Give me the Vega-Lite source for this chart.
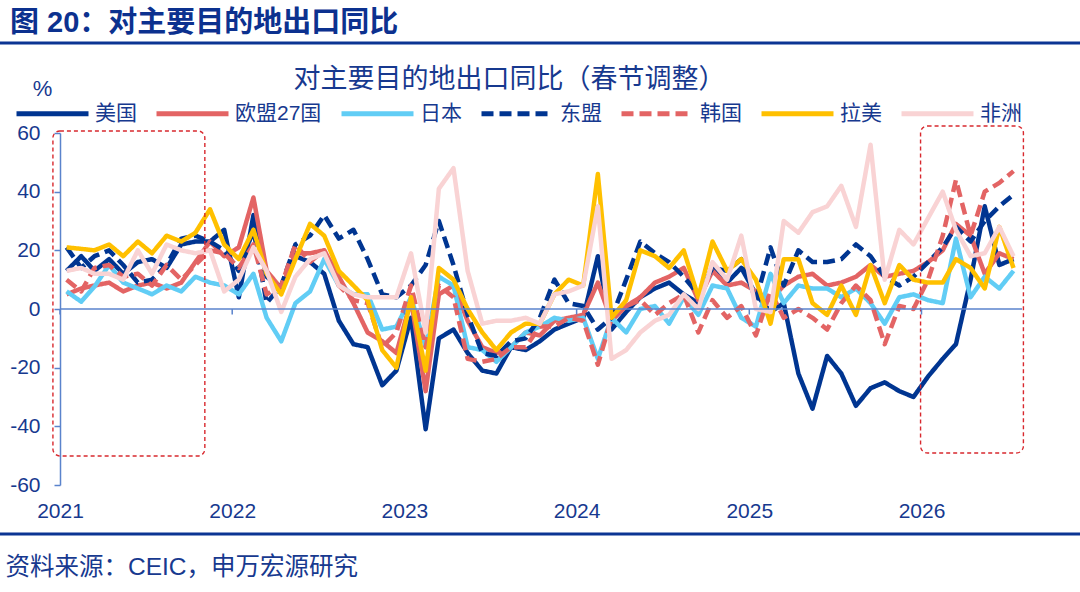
{
  "$schema": "https://vega.github.io/schema/vega-lite/v6.json",
  "width": 962,
  "height": 352,
  "autosize": "none",
  "padding": {"left": 60, "top": 133, "right": 58, "bottom": 107},
  "background": "white",
  "config": {
    "view": {"stroke": null},
    "font": "Liberation Sans, Noto Sans CJK SC"
  },
  "title": {
    "text": "图 20：对主要目的地出口同比",
    "anchor": "start",
    "frame": "group",
    "dx": -50,
    "dy": 17,
    "offset": 20,
    "fontSize": 29,
    "fontWeight": "bold",
    "color": "#0c318f"
  },
  "datasets": {
    "boxes": [
      {"start": "2020-12-17", "end": "2021-11-04", "top": 60.7, "bottom": -50.1},
      {"start": "2025-12-30", "end": "2026-08-05", "top": 62.4, "bottom": -49.1}
    ],
    "years": [
      {"date": "2021-01-01"}, {"date": "2022-01-01"}, {"date": "2023-01-01"},
      {"date": "2024-01-01"}, {"date": "2025-01-01"}, {"date": "2026-01-01"}
    ],
    "exports": [
      {"date":"2021-01-15","series":"美国","value":13},{"date":"2021-02-15","series":"美国","value":18},{"date":"2021-03-15","series":"美国","value":13},{"date":"2021-04-15","series":"美国","value":17},{"date":"2021-05-15","series":"美国","value":12},{"date":"2021-06-15","series":"美国","value":16},{"date":"2021-07-15","series":"美国","value":17},{"date":"2021-08-15","series":"美国","value":14},{"date":"2021-09-15","series":"美国","value":22},{"date":"2021-10-15","series":"美国","value":23},{"date":"2021-11-15","series":"美国","value":23},{"date":"2021-12-15","series":"美国","value":27},
      {"date":"2022-01-15","series":"美国","value":4},{"date":"2022-02-15","series":"美国","value":32},{"date":"2022-03-15","series":"美国","value":11},{"date":"2022-04-15","series":"美国","value":7},{"date":"2022-05-15","series":"美国","value":18},{"date":"2022-06-15","series":"美国","value":16},{"date":"2022-07-15","series":"美国","value":12},{"date":"2022-08-15","series":"美国","value":-4},{"date":"2022-09-15","series":"美国","value":-12},{"date":"2022-10-15","series":"美国","value":-13},{"date":"2022-11-15","series":"美国","value":-26},{"date":"2022-12-15","series":"美国","value":-21},
      {"date":"2023-01-15","series":"美国","value":-3},{"date":"2023-02-15","series":"美国","value":-41},{"date":"2023-03-15","series":"美国","value":-10},{"date":"2023-04-15","series":"美国","value":-7},{"date":"2023-05-15","series":"美国","value":-15},{"date":"2023-06-15","series":"美国","value":-21},{"date":"2023-07-15","series":"美国","value":-22},{"date":"2023-08-15","series":"美国","value":-13},{"date":"2023-09-15","series":"美国","value":-14},{"date":"2023-10-15","series":"美国","value":-11},{"date":"2023-11-15","series":"美国","value":-7},{"date":"2023-12-15","series":"美国","value":-5},
      {"date":"2024-01-15","series":"美国","value":-3},{"date":"2024-02-15","series":"美国","value":18},{"date":"2024-03-15","series":"美国","value":-7},{"date":"2024-04-15","series":"美国","value":-1},{"date":"2024-05-15","series":"美国","value":4},{"date":"2024-06-15","series":"美国","value":7},{"date":"2024-07-15","series":"美国","value":9},{"date":"2024-08-15","series":"美国","value":5},{"date":"2024-09-15","series":"美国","value":2},{"date":"2024-10-15","series":"美国","value":15},{"date":"2024-11-15","series":"美国","value":9},{"date":"2024-12-15","series":"美国","value":14},
      {"date":"2025-01-15","series":"美国","value":5},{"date":"2025-02-15","series":"美国","value":-1},{"date":"2025-03-15","series":"美国","value":2},{"date":"2025-04-15","series":"美国","value":-22},{"date":"2025-05-15","series":"美国","value":-34},{"date":"2025-06-15","series":"美国","value":-16},{"date":"2025-07-15","series":"美国","value":-22},{"date":"2025-08-15","series":"美国","value":-33},{"date":"2025-09-15","series":"美国","value":-27},{"date":"2025-10-15","series":"美国","value":-25},{"date":"2025-11-15","series":"美国","value":-28},{"date":"2025-12-15","series":"美国","value":-30},
      {"date":"2026-01-15","series":"美国","value":-23},{"date":"2026-02-15","series":"美国","value":-17},{"date":"2026-03-15","series":"美国","value":-12},{"date":"2026-04-15","series":"美国","value":10},{"date":"2026-05-15","series":"美国","value":35},{"date":"2026-06-15","series":"美国","value":15},{"date":"2026-07-15","series":"美国","value":17},

      {"date":"2021-01-15","series":"欧盟27国","value":5},{"date":"2021-02-15","series":"欧盟27国","value":7},{"date":"2021-03-15","series":"欧盟27国","value":8},{"date":"2021-04-15","series":"欧盟27国","value":9},{"date":"2021-05-15","series":"欧盟27国","value":6},{"date":"2021-06-15","series":"欧盟27国","value":8},{"date":"2021-07-15","series":"欧盟27国","value":9},{"date":"2021-08-15","series":"欧盟27国","value":7},{"date":"2021-09-15","series":"欧盟27国","value":9},{"date":"2021-10-15","series":"欧盟27国","value":16},{"date":"2021-11-15","series":"欧盟27国","value":23},{"date":"2021-12-15","series":"欧盟27国","value":18},
      {"date":"2022-01-15","series":"欧盟27国","value":21},{"date":"2022-02-15","series":"欧盟27国","value":38},{"date":"2022-03-15","series":"欧盟27国","value":13},{"date":"2022-04-15","series":"欧盟27国","value":7},{"date":"2022-05-15","series":"欧盟27国","value":19},{"date":"2022-06-15","series":"欧盟27国","value":19},{"date":"2022-07-15","series":"欧盟27国","value":20},{"date":"2022-08-15","series":"欧盟27国","value":11},{"date":"2022-09-15","series":"欧盟27国","value":2},{"date":"2022-10-15","series":"欧盟27国","value":-8},{"date":"2022-11-15","series":"欧盟27国","value":-11},{"date":"2022-12-15","series":"欧盟27国","value":-15},
      {"date":"2023-01-15","series":"欧盟27国","value":3},{"date":"2023-02-15","series":"欧盟27国","value":-28},{"date":"2023-03-15","series":"欧盟27国","value":5},{"date":"2023-04-15","series":"欧盟27国","value":8},{"date":"2023-05-15","series":"欧盟27国","value":-4},{"date":"2023-06-15","series":"欧盟27国","value":-13},{"date":"2023-07-15","series":"欧盟27国","value":-15},{"date":"2023-08-15","series":"欧盟27国","value":-13},{"date":"2023-09-15","series":"欧盟27国","value":-8},{"date":"2023-10-15","series":"欧盟27国","value":-9},{"date":"2023-11-15","series":"欧盟27国","value":-4},{"date":"2023-12-15","series":"欧盟27国","value":-3},
      {"date":"2024-01-15","series":"欧盟27国","value":-2},{"date":"2024-02-15","series":"欧盟27国","value":9},{"date":"2024-03-15","series":"欧盟27国","value":-4},{"date":"2024-04-15","series":"欧盟27国","value":1},{"date":"2024-05-15","series":"欧盟27国","value":4},{"date":"2024-06-15","series":"欧盟27国","value":9},{"date":"2024-07-15","series":"欧盟27国","value":11},{"date":"2024-08-15","series":"欧盟27国","value":14},{"date":"2024-09-15","series":"欧盟27国","value":3},{"date":"2024-10-15","series":"欧盟27国","value":13},{"date":"2024-11-15","series":"欧盟27国","value":8},{"date":"2024-12-15","series":"欧盟27国","value":9},
      {"date":"2025-01-15","series":"欧盟27国","value":6},{"date":"2025-02-15","series":"欧盟27国","value":3},{"date":"2025-03-15","series":"欧盟27国","value":8},{"date":"2025-04-15","series":"欧盟27国","value":11},{"date":"2025-05-15","series":"欧盟27国","value":12},{"date":"2025-06-15","series":"欧盟27国","value":8},{"date":"2025-07-15","series":"欧盟27国","value":9},{"date":"2025-08-15","series":"欧盟27国","value":11},{"date":"2025-09-15","series":"欧盟27国","value":15},{"date":"2025-10-15","series":"欧盟27国","value":11},{"date":"2025-11-15","series":"欧盟27国","value":12},{"date":"2025-12-15","series":"欧盟27国","value":13},
      {"date":"2026-01-15","series":"欧盟27国","value":16},{"date":"2026-02-15","series":"欧盟27国","value":20},{"date":"2026-03-15","series":"欧盟27国","value":29},{"date":"2026-04-15","series":"欧盟27国","value":25},{"date":"2026-05-15","series":"欧盟27国","value":12},{"date":"2026-06-15","series":"欧盟27国","value":19},{"date":"2026-07-15","series":"欧盟27国","value":17},

      {"date":"2021-01-15","series":"日本","value":6},{"date":"2021-02-15","series":"日本","value":2.5},{"date":"2021-03-15","series":"日本","value":7.6},{"date":"2021-04-15","series":"日本","value":15},{"date":"2021-05-15","series":"日本","value":9},{"date":"2021-06-15","series":"日本","value":7},{"date":"2021-07-15","series":"日本","value":5},{"date":"2021-08-15","series":"日本","value":8},{"date":"2021-09-15","series":"日本","value":6},{"date":"2021-10-15","series":"日本","value":11},{"date":"2021-11-15","series":"日本","value":9},{"date":"2021-12-15","series":"日本","value":8},
      {"date":"2022-01-15","series":"日本","value":5},{"date":"2022-02-15","series":"日本","value":12},{"date":"2022-03-15","series":"日本","value":-3},{"date":"2022-04-15","series":"日本","value":-11},{"date":"2022-05-15","series":"日本","value":2},{"date":"2022-06-15","series":"日本","value":6},{"date":"2022-07-15","series":"日本","value":17},{"date":"2022-08-15","series":"日本","value":8},{"date":"2022-09-15","series":"日本","value":5},{"date":"2022-10-15","series":"日本","value":5},{"date":"2022-11-15","series":"日本","value":-7},{"date":"2022-12-15","series":"日本","value":-6},
      {"date":"2023-01-15","series":"日本","value":4},{"date":"2023-02-15","series":"日本","value":-13},{"date":"2023-03-15","series":"日本","value":11},{"date":"2023-04-15","series":"日本","value":8},{"date":"2023-05-15","series":"日本","value":-13},{"date":"2023-06-15","series":"日本","value":-14},{"date":"2023-07-15","series":"日本","value":-18},{"date":"2023-08-15","series":"日本","value":-13},{"date":"2023-09-15","series":"日本","value":-8},{"date":"2023-10-15","series":"日本","value":-6},{"date":"2023-11-15","series":"日本","value":-3},{"date":"2023-12-15","series":"日本","value":-4},
      {"date":"2024-01-15","series":"日本","value":-3},{"date":"2024-02-15","series":"日本","value":-17},{"date":"2024-03-15","series":"日本","value":-3},{"date":"2024-04-15","series":"日本","value":-8},{"date":"2024-05-15","series":"日本","value":0},{"date":"2024-06-15","series":"日本","value":1},{"date":"2024-07-15","series":"日本","value":-5},{"date":"2024-08-15","series":"日本","value":4},{"date":"2024-09-15","series":"日本","value":-2},{"date":"2024-10-15","series":"日本","value":8},{"date":"2024-11-15","series":"日本","value":7},{"date":"2024-12-15","series":"日本","value":-3},
      {"date":"2025-01-15","series":"日本","value":-6},{"date":"2025-02-15","series":"日本","value":12},{"date":"2025-03-15","series":"日本","value":2},{"date":"2025-04-15","series":"日本","value":8},{"date":"2025-05-15","series":"日本","value":7},{"date":"2025-06-15","series":"日本","value":7},{"date":"2025-07-15","series":"日本","value":4},{"date":"2025-08-15","series":"日本","value":7},{"date":"2025-09-15","series":"日本","value":2},{"date":"2025-10-15","series":"日本","value":-5},{"date":"2025-11-15","series":"日本","value":4},{"date":"2025-12-15","series":"日本","value":5},
      {"date":"2026-01-15","series":"日本","value":3},{"date":"2026-02-15","series":"日本","value":2},{"date":"2026-03-15","series":"日本","value":24},{"date":"2026-04-15","series":"日本","value":4},{"date":"2026-05-15","series":"日本","value":11},{"date":"2026-06-15","series":"日本","value":7},{"date":"2026-07-15","series":"日本","value":13},

      {"date":"2021-01-15","series":"东盟","value":21},{"date":"2021-02-15","series":"东盟","value":14},{"date":"2021-03-15","series":"东盟","value":18},{"date":"2021-04-15","series":"东盟","value":20},{"date":"2021-05-15","series":"东盟","value":15},{"date":"2021-06-15","series":"东盟","value":9},{"date":"2021-07-15","series":"东盟","value":10},{"date":"2021-08-15","series":"东盟","value":15},{"date":"2021-09-15","series":"东盟","value":24},{"date":"2021-10-15","series":"东盟","value":25},{"date":"2021-11-15","series":"东盟","value":23},{"date":"2021-12-15","series":"东盟","value":20},
      {"date":"2022-01-15","series":"东盟","value":13},{"date":"2022-02-15","series":"东盟","value":27},{"date":"2022-03-15","series":"东盟","value":2},{"date":"2022-04-15","series":"东盟","value":8},{"date":"2022-05-15","series":"东盟","value":22},{"date":"2022-06-15","series":"东盟","value":25},{"date":"2022-07-15","series":"东盟","value":32},{"date":"2022-08-15","series":"东盟","value":24},{"date":"2022-09-15","series":"东盟","value":27},{"date":"2022-10-15","series":"东盟","value":17},{"date":"2022-11-15","series":"东盟","value":5},{"date":"2022-12-15","series":"东盟","value":4},
      {"date":"2023-01-15","series":"东盟","value":8},{"date":"2023-02-15","series":"东盟","value":15},{"date":"2023-03-15","series":"东盟","value":30},{"date":"2023-04-15","series":"东盟","value":15},{"date":"2023-05-15","series":"东盟","value":-2},{"date":"2023-06-15","series":"东盟","value":-15},{"date":"2023-07-15","series":"东盟","value":-16},{"date":"2023-08-15","series":"东盟","value":-11},{"date":"2023-09-15","series":"东盟","value":-10},{"date":"2023-10-15","series":"东盟","value":-3},{"date":"2023-11-15","series":"东盟","value":10},{"date":"2023-12-15","series":"东盟","value":2},
      {"date":"2024-01-15","series":"东盟","value":1},{"date":"2024-02-15","series":"东盟","value":-7},{"date":"2024-03-15","series":"东盟","value":-3},{"date":"2024-04-15","series":"东盟","value":10},{"date":"2024-05-15","series":"东盟","value":23},{"date":"2024-06-15","series":"东盟","value":19},{"date":"2024-07-15","series":"东盟","value":16},{"date":"2024-08-15","series":"东盟","value":11},{"date":"2024-09-15","series":"东盟","value":5},{"date":"2024-10-15","series":"东盟","value":14},{"date":"2024-11-15","series":"东盟","value":13},{"date":"2024-12-15","series":"东盟","value":17},
      {"date":"2025-01-15","series":"东盟","value":3},{"date":"2025-02-15","series":"东盟","value":21},{"date":"2025-03-15","series":"东盟","value":8},{"date":"2025-04-15","series":"东盟","value":20},{"date":"2025-05-15","series":"东盟","value":16},{"date":"2025-06-15","series":"东盟","value":16},{"date":"2025-07-15","series":"东盟","value":17},{"date":"2025-08-15","series":"东盟","value":22},{"date":"2025-09-15","series":"东盟","value":18},{"date":"2025-10-15","series":"东盟","value":11},{"date":"2025-11-15","series":"东盟","value":8},{"date":"2025-12-15","series":"东盟","value":11},
      {"date":"2026-01-15","series":"东盟","value":16},{"date":"2026-02-15","series":"东盟","value":21},{"date":"2026-03-15","series":"东盟","value":28},{"date":"2026-04-15","series":"东盟","value":23},{"date":"2026-05-15","series":"东盟","value":30},{"date":"2026-06-15","series":"东盟","value":35},{"date":"2026-07-15","series":"东盟","value":39},

      {"date":"2021-01-15","series":"韩国","value":10},{"date":"2021-02-15","series":"韩国","value":6},{"date":"2021-03-15","series":"韩国","value":14},{"date":"2021-04-15","series":"韩国","value":15},{"date":"2021-05-15","series":"韩国","value":11},{"date":"2021-06-15","series":"韩国","value":12},{"date":"2021-07-15","series":"韩国","value":8},{"date":"2021-08-15","series":"韩国","value":15},{"date":"2021-09-15","series":"韩国","value":10},{"date":"2021-10-15","series":"韩国","value":15},{"date":"2021-11-15","series":"韩国","value":20},{"date":"2021-12-15","series":"韩国","value":19},
      {"date":"2022-01-15","series":"韩国","value":14},{"date":"2022-02-15","series":"韩国","value":22},{"date":"2022-03-15","series":"韩国","value":5},{"date":"2022-04-15","series":"韩国","value":8},{"date":"2022-05-15","series":"韩国","value":22},{"date":"2022-06-15","series":"韩国","value":16},{"date":"2022-07-15","series":"韩国","value":20},{"date":"2022-08-15","series":"韩国","value":8},{"date":"2022-09-15","series":"韩国","value":3},{"date":"2022-10-15","series":"韩国","value":2},{"date":"2022-11-15","series":"韩国","value":-13},{"date":"2022-12-15","series":"韩国","value":-8},
      {"date":"2023-01-15","series":"韩国","value":8},{"date":"2023-02-15","series":"韩国","value":-13},{"date":"2023-03-15","series":"韩国","value":8},{"date":"2023-04-15","series":"韩国","value":4},{"date":"2023-05-15","series":"韩国","value":-17},{"date":"2023-06-15","series":"韩国","value":-18},{"date":"2023-07-15","series":"韩国","value":-17},{"date":"2023-08-15","series":"韩国","value":-13},{"date":"2023-09-15","series":"韩国","value":-13},{"date":"2023-10-15","series":"韩国","value":-6},{"date":"2023-11-15","series":"韩国","value":-6},{"date":"2023-12-15","series":"韩国","value":-3},
      {"date":"2024-01-15","series":"韩国","value":-4},{"date":"2024-02-15","series":"韩国","value":-19},{"date":"2024-03-15","series":"韩国","value":-3},{"date":"2024-04-15","series":"韩国","value":1},{"date":"2024-05-15","series":"韩国","value":3},{"date":"2024-06-15","series":"韩国","value":-2},{"date":"2024-07-15","series":"韩国","value":2},{"date":"2024-08-15","series":"韩国","value":5},{"date":"2024-09-15","series":"韩国","value":-8},{"date":"2024-10-15","series":"韩国","value":3},{"date":"2024-11-15","series":"韩国","value":-3},{"date":"2024-12-15","series":"韩国","value":1},
      {"date":"2025-01-15","series":"韩国","value":-9},{"date":"2025-02-15","series":"韩国","value":6},{"date":"2025-03-15","series":"韩国","value":-3},{"date":"2025-04-15","series":"韩国","value":0},{"date":"2025-05-15","series":"韩国","value":-3},{"date":"2025-06-15","series":"韩国","value":-7},{"date":"2025-07-15","series":"韩国","value":2},{"date":"2025-08-15","series":"韩国","value":8},{"date":"2025-09-15","series":"韩国","value":3},{"date":"2025-10-15","series":"韩国","value":-12},{"date":"2025-11-15","series":"韩国","value":1},{"date":"2025-12-15","series":"韩国","value":0},
      {"date":"2026-01-15","series":"韩国","value":10},{"date":"2026-02-15","series":"韩国","value":25},{"date":"2026-03-15","series":"韩国","value":44},{"date":"2026-04-15","series":"韩国","value":25},{"date":"2026-05-15","series":"韩国","value":40},{"date":"2026-06-15","series":"韩国","value":43},{"date":"2026-07-15","series":"韩国","value":47},

      {"date":"2021-01-15","series":"拉美","value":21},{"date":"2021-02-15","series":"拉美","value":20.5},{"date":"2021-03-15","series":"拉美","value":20},{"date":"2021-04-15","series":"拉美","value":22},{"date":"2021-05-15","series":"拉美","value":18},{"date":"2021-06-15","series":"拉美","value":23},{"date":"2021-07-15","series":"拉美","value":19},{"date":"2021-08-15","series":"拉美","value":25},{"date":"2021-09-15","series":"拉美","value":23},{"date":"2021-10-15","series":"拉美","value":26},{"date":"2021-11-15","series":"拉美","value":34},{"date":"2021-12-15","series":"拉美","value":22},
      {"date":"2022-01-15","series":"拉美","value":17},{"date":"2022-02-15","series":"拉美","value":27},{"date":"2022-03-15","series":"拉美","value":12},{"date":"2022-04-15","series":"拉美","value":5},{"date":"2022-05-15","series":"拉美","value":17},{"date":"2022-06-15","series":"拉美","value":29},{"date":"2022-07-15","series":"拉美","value":25},{"date":"2022-08-15","series":"拉美","value":13},{"date":"2022-09-15","series":"拉美","value":8},{"date":"2022-10-15","series":"拉美","value":3},{"date":"2022-11-15","series":"拉美","value":-14},{"date":"2022-12-15","series":"拉美","value":-20},
      {"date":"2023-01-15","series":"拉美","value":4},{"date":"2023-02-15","series":"拉美","value":-21},{"date":"2023-03-15","series":"拉美","value":14},{"date":"2023-04-15","series":"拉美","value":10},{"date":"2023-05-15","series":"拉美","value":0},{"date":"2023-06-15","series":"拉美","value":-8},{"date":"2023-07-15","series":"拉美","value":-14},{"date":"2023-08-15","series":"拉美","value":-8},{"date":"2023-09-15","series":"拉美","value":-5},{"date":"2023-10-15","series":"拉美","value":-5},{"date":"2023-11-15","series":"拉美","value":5},{"date":"2023-12-15","series":"拉美","value":10},
      {"date":"2024-01-15","series":"拉美","value":8},{"date":"2024-02-15","series":"拉美","value":46},{"date":"2024-03-15","series":"拉美","value":-3},{"date":"2024-04-15","series":"拉美","value":3},{"date":"2024-05-15","series":"拉美","value":20},{"date":"2024-06-15","series":"拉美","value":18},{"date":"2024-07-15","series":"拉美","value":14},{"date":"2024-08-15","series":"拉美","value":20},{"date":"2024-09-15","series":"拉美","value":4},{"date":"2024-10-15","series":"拉美","value":23},{"date":"2024-11-15","series":"拉美","value":13},{"date":"2024-12-15","series":"拉美","value":17},
      {"date":"2025-01-15","series":"拉美","value":10},{"date":"2025-02-15","series":"拉美","value":-5},{"date":"2025-03-15","series":"拉美","value":17},{"date":"2025-04-15","series":"拉美","value":17},{"date":"2025-05-15","series":"拉美","value":2},{"date":"2025-06-15","series":"拉美","value":-2},{"date":"2025-07-15","series":"拉美","value":8},{"date":"2025-08-15","series":"拉美","value":-2},{"date":"2025-09-15","series":"拉美","value":15},{"date":"2025-10-15","series":"拉美","value":2},{"date":"2025-11-15","series":"拉美","value":15},{"date":"2025-12-15","series":"拉美","value":10},
      {"date":"2026-01-15","series":"拉美","value":9},{"date":"2026-02-15","series":"拉美","value":9},{"date":"2026-03-15","series":"拉美","value":17},{"date":"2026-04-15","series":"拉美","value":14},{"date":"2026-05-15","series":"拉美","value":7},{"date":"2026-06-15","series":"拉美","value":28},{"date":"2026-07-15","series":"拉美","value":14},

      {"date":"2021-01-15","series":"非洲","value":13},{"date":"2021-02-15","series":"非洲","value":14},{"date":"2021-03-15","series":"非洲","value":12},{"date":"2021-04-15","series":"非洲","value":12},{"date":"2021-05-15","series":"非洲","value":10},{"date":"2021-06-15","series":"非洲","value":20},{"date":"2021-07-15","series":"非洲","value":12},{"date":"2021-08-15","series":"非洲","value":22},{"date":"2021-09-15","series":"非洲","value":20},{"date":"2021-10-15","series":"非洲","value":19},{"date":"2021-11-15","series":"非洲","value":20},{"date":"2021-12-15","series":"非洲","value":6},
      {"date":"2022-01-15","series":"非洲","value":10},{"date":"2022-02-15","series":"非洲","value":21},{"date":"2022-03-15","series":"非洲","value":13},{"date":"2022-04-15","series":"非洲","value":-1},{"date":"2022-05-15","series":"非洲","value":11},{"date":"2022-06-15","series":"非洲","value":17},{"date":"2022-07-15","series":"非洲","value":19},{"date":"2022-08-15","series":"非洲","value":8},{"date":"2022-09-15","series":"非洲","value":5},{"date":"2022-10-15","series":"非洲","value":4},{"date":"2022-11-15","series":"非洲","value":4},{"date":"2022-12-15","series":"非洲","value":4},
      {"date":"2023-01-15","series":"非洲","value":19},{"date":"2023-02-15","series":"非洲","value":-8},{"date":"2023-03-15","series":"非洲","value":41},{"date":"2023-04-15","series":"非洲","value":48},{"date":"2023-05-15","series":"非洲","value":13},{"date":"2023-06-15","series":"非洲","value":-5},{"date":"2023-07-15","series":"非洲","value":-4},{"date":"2023-08-15","series":"非洲","value":-4},{"date":"2023-09-15","series":"非洲","value":-3},{"date":"2023-10-15","series":"非洲","value":-5},{"date":"2023-11-15","series":"非洲","value":5},{"date":"2023-12-15","series":"非洲","value":6},
      {"date":"2024-01-15","series":"非洲","value":8},{"date":"2024-02-15","series":"非洲","value":35},{"date":"2024-03-15","series":"非洲","value":-17},{"date":"2024-04-15","series":"非洲","value":-14},{"date":"2024-05-15","series":"非洲","value":-8},{"date":"2024-06-15","series":"非洲","value":-4},{"date":"2024-07-15","series":"非洲","value":-2},{"date":"2024-08-15","series":"非洲","value":5},{"date":"2024-09-15","series":"非洲","value":0},{"date":"2024-10-15","series":"非洲","value":16},{"date":"2024-11-15","series":"非洲","value":10},{"date":"2024-12-15","series":"非洲","value":25},
      {"date":"2025-01-15","series":"非洲","value":0},{"date":"2025-02-15","series":"非洲","value":-1},{"date":"2025-03-15","series":"非洲","value":30},{"date":"2025-04-15","series":"非洲","value":26},{"date":"2025-05-15","series":"非洲","value":33},{"date":"2025-06-15","series":"非洲","value":35},{"date":"2025-07-15","series":"非洲","value":42},{"date":"2025-08-15","series":"非洲","value":28},{"date":"2025-09-15","series":"非洲","value":56},{"date":"2025-10-15","series":"非洲","value":10},{"date":"2025-11-15","series":"非洲","value":27},{"date":"2025-12-15","series":"非洲","value":22},
      {"date":"2026-01-15","series":"非洲","value":31},{"date":"2026-02-15","series":"非洲","value":40},{"date":"2026-03-15","series":"非洲","value":27},{"date":"2026-04-15","series":"非洲","value":18},{"date":"2026-05-15","series":"非洲","value":19},{"date":"2026-06-15","series":"非洲","value":28},{"date":"2026-07-15","series":"非洲","value":18}
    ]
  },
  "layer": [
    {
      "data": {"name": "exports"},
      "mark": {"type": "line", "strokeWidth": 4.5, "strokeJoin": "round"},
      "encoding": {
        "x": {
          "field": "date", "type": "temporal",
          "scale": {"type": "utc", "domain": [{"year": 2021, "month": 1, "date": 1, "utc": true}, {"year": 2026, "month": 8, "date": 2, "utc": true}]},
          "axis": {
            "orient": "bottom",
            "values": [
              {"year": 2021, "month": 1, "date": 1, "utc": true}, {"year": 2022, "month": 1, "date": 1, "utc": true},
              {"year": 2023, "month": 1, "date": 1, "utc": true}, {"year": 2024, "month": 1, "date": 1, "utc": true},
              {"year": 2025, "month": 1, "date": 1, "utc": true}, {"year": 2026, "month": 1, "date": 1, "utc": true}
            ],
            "format": "%Y", "formatType": "utc",
            "domain": false, "ticks": false, "grid": false, "labelFlush": false,
            "labelFontSize": 21, "labelColor": "#17398f", "labelPadding": 15,
            "title": "资料来源：CEIC，申万宏源研究",
            "titleX": -55, "titleY": 82, "titleAlign": "left", "titleAnchor": "start", "titleBaseline": "middle",
            "titleFontSize": 24.5, "titleFontWeight": "normal", "titleColor": "#17398f"
          }
        },
        "y": {
          "field": "value", "type": "quantitative",
          "scale": {"domain": [-60, 60], "nice": false},
          "axis": {
            "values": [-60, -40, -20, 0, 20, 40, 60],
            "labelExpr": "datum.value",
            "grid": false, "domainColor": "#5a83cc", "domainWidth": 1.5,
            "tickColor": "#5a83cc", "tickSize": 6, "tickWidth": 1.5,
            "labelFontSize": 21, "labelColor": "#17398f", "labelPadding": 14,
            "title": "%", "titleAngle": 0, "titleX": -18, "titleY": -45,
            "titleAlign": "center", "titleBaseline": "middle",
            "titleFontSize": 22, "titleFontWeight": "normal", "titleColor": "#17398f"
          }
        },
        "color": {
          "field": "series", "type": "nominal",
          "scale": {
            "domain": ["美国", "欧盟27国", "日本", "东盟", "韩国", "拉美", "非洲"],
            "range": ["#003591", "#e36464", "#61cdf5", "#003591", "#e36464", "#ffc000", "#f9d3d4"]
          },
          "legend": {
            "orient": "none", "legendX": -46, "legendY": -58, "direction": "horizontal",
            "title": null, "padding": 0,
            "symbolType": "stroke", "symbolSize": 5184, "symbolStrokeWidth": 5,
            "labelFontSize": 21, "labelColor": "#17398f", "labelOffset": 4,
            "columnPadding": 9, "labelLimit": 200
          }
        },
        "strokeDash": {
          "field": "series", "type": "nominal",
          "scale": {
            "domain": ["美国", "欧盟27国", "日本", "东盟", "韩国", "拉美", "非洲"],
            "range": [[1, 0], [1, 0], [1, 0], [12, 6], [12, 6], [1, 0], [1, 0]]
          },
          "legend": {
            "orient": "none", "legendX": -46, "legendY": -58, "direction": "horizontal",
            "title": null, "padding": 0,
            "symbolType": "stroke", "symbolSize": 5184, "symbolStrokeWidth": 5,
            "labelFontSize": 21, "labelColor": "#17398f", "labelOffset": 4,
            "columnPadding": 9, "labelLimit": 200
          }
        }
      }
    },
    {
      "data": {"name": "boxes"},
      "mark": {"type": "rect", "fill": "transparent", "stroke": "#d8282e", "strokeWidth": 1.4, "strokeDash": [4, 3], "cornerRadius": 7},
      "encoding": {
        "x": {"field": "start", "type": "temporal", "scale": {"type": "utc", "domain": [{"year": 2021, "month": 1, "date": 1, "utc": true}, {"year": 2026, "month": 8, "date": 2, "utc": true}]}, "axis": null},
        "x2": {"field": "end"},
        "y": {"field": "top", "type": "quantitative", "scale": {"domain": [-60, 60], "nice": false}},
        "y2": {"field": "bottom"}
      }
    },
    {
      "data": {"values": [{}]},
      "mark": {"type": "rule", "color": "#5a83cc", "strokeWidth": 1.5},
      "encoding": {
        "y": {"datum": 0, "type": "quantitative", "scale": {"domain": [-60, 60], "nice": false}}
      }
    },
    {
      "data": {"name": "years"},
      "mark": {"type": "rule", "color": "#5a83cc", "strokeWidth": 1.5},
      "encoding": {
        "x": {
          "field": "date", "type": "temporal",
          "scale": {"type": "utc", "domain": [{"year": 2021, "month": 1, "date": 1, "utc": true}, {"year": 2026, "month": 8, "date": 2, "utc": true}]},
          "axis": {
            "orient": "top", "labels": false, "ticks": false, "domain": false, "grid": false,
            "title": "对主要目的地出口同比（春节调整）",
            "titleX": 449, "titleY": -54, "titleAlign": "center", "titleBaseline": "middle",
            "titleFontSize": 27, "titleFontWeight": "normal", "titleColor": "#17398f"
          }
        },
        "y": {"datum": 0, "type": "quantitative", "scale": {"domain": [-60, 60], "nice": false}},
        "y2": {"datum": -1.9}
      }
    },
    {
      "data": {"values": [{}]},
      "mark": {"type": "rule", "color": "#0b3593", "strokeWidth": 3},
      "encoding": {
        "x": {"datum": {"year": 2020, "month": 8, "date": 24, "utc": true}, "type": "temporal", "scale": {"type": "utc", "domain": [{"year": 2021, "month": 1, "date": 1, "utc": true}, {"year": 2026, "month": 8, "date": 2, "utc": true}]}, "axis": null},
        "x2": {"datum": {"year": 2026, "month": 12, "date": 8, "utc": true}},
        "y": {"datum": 90.7, "type": "quantitative", "scale": {"domain": [-60, 60], "nice": false}}
      }
    },
    {
      "data": {"values": [{}]},
      "mark": {"type": "rule", "color": "#0b3593", "strokeWidth": 3},
      "encoding": {
        "x": {"datum": {"year": 2020, "month": 8, "date": 24, "utc": true}, "type": "temporal", "scale": {"type": "utc", "domain": [{"year": 2021, "month": 1, "date": 1, "utc": true}, {"year": 2026, "month": 8, "date": 2, "utc": true}]}, "axis": null},
        "x2": {"datum": {"year": 2026, "month": 12, "date": 8, "utc": true}},
        "y": {"datum": -76.7, "type": "quantitative", "scale": {"domain": [-60, 60], "nice": false}}
      }
    }
  ],
  "resolve": {"axis": {"x": "independent"}}
}
